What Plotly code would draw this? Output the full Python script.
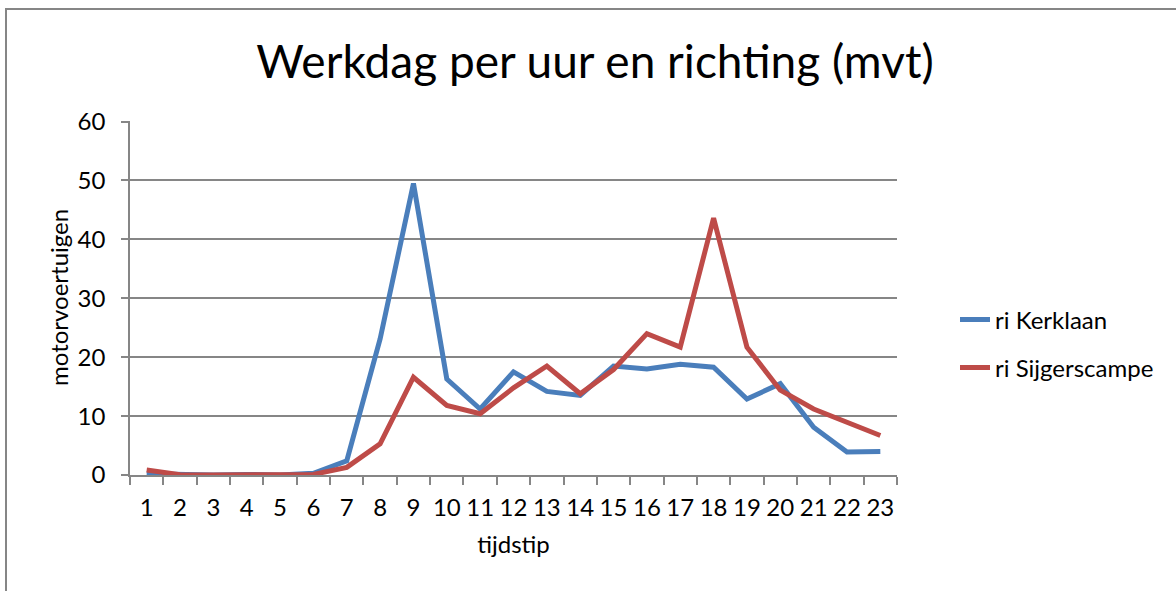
import plotly.graph_objects as go

hours = [str(i) for i in range(1, 24)]
kerklaan = [0.2, 0, 0, 0.1, 0, 0.3, 2.4, 23.1, 49.5, 16.3, 11.2, 17.5, 14.2, 13.5,
            18.5, 18.0, 18.8, 18.3, 12.9, 15.5, 8.1, 3.9, 4.0]
sijgerscampe = [0.85, 0.05, 0, 0.1, 0, 0.1, 1.3, 5.3, 16.6, 11.8, 10.4, 14.8, 18.5, 13.8,
                17.9, 24.0, 21.7, 43.6, 21.7, 14.4, 11.2, 9.0, 6.7]

FONT = "Lato, Roboto, sans-serif"
GRAY = "#868686"

fig = go.Figure()
fig.add_trace(go.Scatter(x=hours, y=kerklaan, mode="lines", name="ri Kerklaan",
                         line=dict(color="#4A7EBB", width=5), legend="legend"))
fig.add_trace(go.Scatter(x=hours, y=sijgerscampe, mode="lines", name="ri Sijgerscampe",
                         line=dict(color="#BE4B48", width=5), legend="legend2"))

W, H = 1176, 591
L, R, T, B = 130, 897, 121, 475

def px_x(p):
    return (p - L) / (R - L)

def px_y(p):
    return (B - p) / (B - T)

legend_common = dict(xanchor="left", yanchor="middle", font=dict(size=24, family=FONT),
                     bgcolor="rgba(0,0,0,0)", itemwidth=30)

fig.update_layout(
    width=W, height=H,
    margin=dict(l=L, r=W - R, t=T, b=H - B),
    paper_bgcolor="white", plot_bgcolor="white",
    font=dict(family=FONT, color="black", size=24),
    title=dict(text="Werkdag per uur en richting (mvt)", x=595 / W, xanchor="center",
               y=1 - 62 / H, yanchor="middle", font=dict(size=46, family=FONT)),
    showlegend=True,
    legend=dict(x=px_x(955), y=px_y(320), **legend_common),
    legend2=dict(x=px_x(955), y=px_y(368), **legend_common),
    shapes=[
        dict(type="line", xref="paper", yref="paper", x0=px_x(5), x1=px_x(1180),
             y0=px_y(9), y1=px_y(9), line=dict(color=GRAY, width=2)),
        dict(type="line", xref="paper", yref="paper", x0=px_x(6), x1=px_x(6),
             y0=px_y(8), y1=px_y(595), line=dict(color=GRAY, width=2)),
    ],
    annotations=[
        dict(text="motorvoertuigen", xref="paper", yref="paper", x=px_x(58), y=px_y(298),
             xanchor="center", yanchor="middle", textangle=-90, showarrow=False,
             font=dict(size=24, family=FONT, color="black")),
    ],
)

fig.update_xaxes(type="category", tickson="boundaries", range=[-0.5, 22.5],
                 ticks="outside", ticklen=8, tickcolor=GRAY, tickwidth=1.5,
                 showline=True, linecolor=GRAY, linewidth=1.5, showgrid=False,
                 tickangle=0, tickfont=dict(size=24), ticklabelstandoff=10,
                 title=dict(text="tijdstip", font=dict(size=24), standoff=17))
fig.update_yaxes(range=[0, 60.1], dtick=10, ticks="outside", ticklen=7,
                 tickcolor=GRAY, tickwidth=1.5, showline=True, linecolor=GRAY,
                 linewidth=1.5, showgrid=True, gridcolor=GRAY, gridwidth=1.5,
                 zeroline=False, tickfont=dict(size=24), ticklabelstandoff=11)

fig.write_html("out.html", config={"displayModeBar": False},
               post_script="document.body.style.margin='0';")
